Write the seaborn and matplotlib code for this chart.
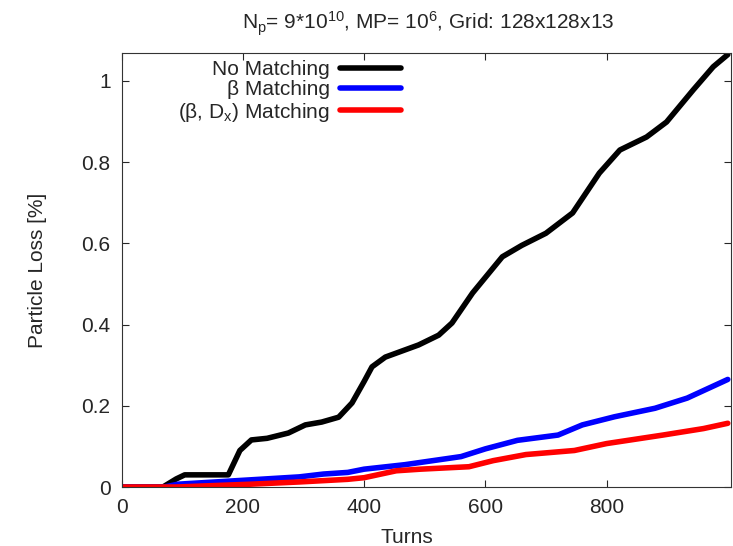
import pandas as pd
import matplotlib.pyplot as plt
import seaborn as sns

# values
turns_none = [0, 68, 90, 104, 176, 195, 214, 240, 275, 303, 330, 358, 380, 400, 413, 435, 490, 523, 545, 579, 628, 660, 700, 744, 788, 822, 866, 899, 943, 976, 1000]
loss_none = [0, 0, 0.02, 0.03, 0.03, 0.09, 0.116, 0.12, 0.133, 0.153, 0.16, 0.172, 0.207, 0.26, 0.296, 0.32, 0.35, 0.374, 0.404, 0.478, 0.567, 0.595, 0.625, 0.675, 0.773, 0.83, 0.862, 0.899, 0.978, 1.035, 1.065]

turns_beta = [0, 70, 93, 160, 227, 293, 333, 373, 400, 467, 560, 600, 653, 720, 760, 813, 880, 933, 1000]
loss_beta = [0, 0, 0.007, 0.013, 0.019, 0.025, 0.032, 0.036, 0.044, 0.055, 0.075, 0.094, 0.115, 0.128, 0.153, 0.173, 0.194, 0.219, 0.265]

turns_bdx = [0, 90, 133, 213, 293, 373, 400, 453, 493, 573, 613, 667, 747, 800, 893, 960, 1000]
loss_bdx = [0, 0, 0.0025, 0.007, 0.0125, 0.019, 0.023, 0.04, 0.044, 0.05, 0.065, 0.08, 0.09, 0.107, 0.128, 0.144, 0.157]

labels = ['No Matching', 'β Matching', '(β, D$_x$) Matching']
colors = ['black', '#0000ff', '#ff0000']

df = pd.concat([
    pd.DataFrame({'Turns': turns_none, 'Loss': loss_none, 'Case': labels[0]}),
    pd.DataFrame({'Turns': turns_beta, 'Loss': loss_beta, 'Case': labels[1]}),
    pd.DataFrame({'Turns': turns_bdx, 'Loss': loss_bdx, 'Case': labels[2]}),
])

sns.set_style('ticks')
plt.rcParams['font.family'] = ['Liberation Sans', 'DejaVu Sans']
plt.rcParams['mathtext.default'] = 'regular'

fig = plt.figure(figsize=(7.33, 5.46), dpi=100)
ax = fig.add_axes([0.166, 0.108, 0.831, 0.795])
sns.lineplot(data=df, x='Turns', y='Loss', hue='Case', palette=dict(zip(labels, colors)),
             linewidth=4, ax=ax, sort=False)

ax.set_xlim(0, 1005)
ax.set_ylim(0, 1.069)
ax.set_xticks([0, 200, 400, 600, 800])
ax.set_yticks([0, 0.2, 0.4, 0.6, 0.8, 1])
ax.set_yticklabels(['0', '0.2', '0.4', '0.6', '0.8', '1'])
ax.tick_params(direction='in', top=True, right=True, labelsize=15, length=5, width=0.8, pad=8)
for s in ax.spines.values():
    s.set_linewidth(0.8)
    s.set_color('#333333')
ax.set_xlabel('Turns', fontsize=15)
ax.set_ylabel('Particle Loss [%]', fontsize=15)
ax.xaxis.set_label_coords(0.468, -0.094)
ax.yaxis.set_label_coords(-0.123, 0.5)
fig.text(0.584, 0.957, 'N$_p$= 9*10$^{10}$, MP= 10$^6$, Grid: 128x128x13', ha='center', va='center', fontsize=15)

leg = ax.legend(loc='upper right', bbox_to_anchor=(0.489, 1.026), frameon=False, markerfirst=False,
                fontsize=15, handlelength=2.9, labelspacing=0.05, handletextpad=0.5)
for t in leg.get_texts():
    t.set_ha('right')
leg._legend_box.align = 'right'

fig.savefig('out.png', dpi=100)
